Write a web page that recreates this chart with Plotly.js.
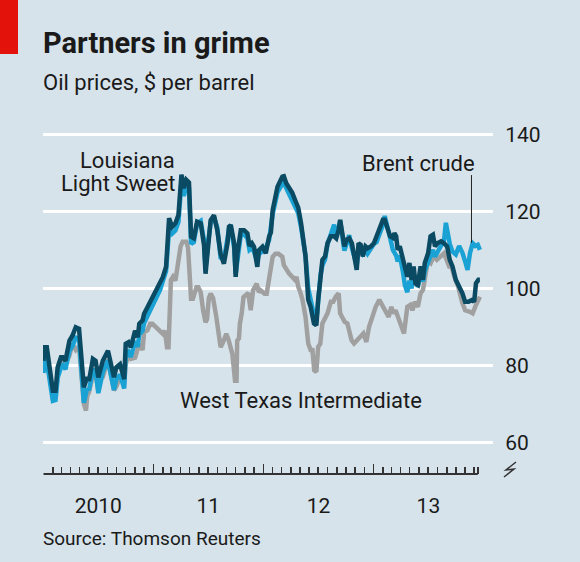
<!DOCTYPE html>
<html><head><meta charset="utf-8">
<script src="https://cdn.plot.ly/plotly-3.0.1.min.js"></script>
<style>html,body{margin:0;padding:0;background:#d7e3ea;} #chart{width:580px;height:562px;}</style>
</head><body><div id="chart"></div>
<script>
// ---- Louisiana Light Sweet ----
const llsDates = ['2010-01-01','2010-01-04','2010-01-12','2010-01-23','2010-02-01','2010-02-10','2010-02-17','2010-02-28','2010-03-06','2010-03-15','2010-03-28','2010-04-07','2010-04-18','2010-04-29','2010-05-06','2010-05-15','2010-05-26','2010-06-01','2010-06-14','2010-06-23','2010-07-02','2010-07-10','2010-07-17','2010-08-03','2010-08-12','2010-08-23','2010-08-31','2010-09-12','2010-09-26','2010-10-01','2010-10-10','2010-10-18','2010-11-01','2010-11-10','2010-11-15','2010-11-26','2010-12-01','2010-12-12','2010-12-19','2010-12-29','2011-01-09','2011-01-23','2011-02-01','2011-02-12','2011-02-22','2011-03-04','2011-03-15','2011-03-25','2011-04-04','2011-04-12','2011-04-20','2011-04-29','2011-05-06','2011-05-15','2011-05-26','2011-06-07','2011-06-18','2011-06-23','2011-07-01','2011-07-10','2011-07-21','2011-08-01','2011-08-12','2011-08-23','2011-09-04','2011-09-09','2011-09-15','2011-09-26','2011-10-01','2011-10-07','2011-10-18','2011-10-29','2011-11-09','2011-11-16','2011-11-24','2011-12-01','2011-12-12','2011-12-17','2011-12-29','2012-01-09','2012-01-20','2012-01-26','2012-02-01','2012-02-13','2012-02-17','2012-03-04','2012-03-09','2012-03-17','2012-03-26','2012-04-06','2012-04-17','2012-04-26','2012-05-05','2012-05-11','2012-05-20','2012-05-29','2012-06-06','2012-06-17','2012-06-25','2012-07-01','2012-07-09','2012-07-15','2012-07-24','2012-08-01','2012-08-12','2012-08-23','2012-08-30','2012-09-07','2012-09-12','2012-09-20','2012-09-26','2012-10-03','2012-10-12','2012-10-21','2012-10-29','2012-11-06','2012-11-12','2012-11-19','2012-11-26','2012-12-05','2012-12-12','2012-12-23','2013-01-02','2013-01-11','2013-01-20','2013-02-01','2013-02-07','2013-02-17','2013-02-25','2013-03-06','2013-03-11','2013-03-17','2013-03-22','2013-03-29','2013-04-08','2013-04-15','2013-04-23','2013-04-30','2013-05-07','2013-05-14','2013-05-20','2013-05-28','2013-06-06','2013-06-14','2013-06-20','2013-07-01','2013-07-09','2013-07-17','2013-07-24','2013-08-01','2013-08-13','2013-08-23','2013-09-02','2013-09-11','2013-09-20','2013-10-01','2013-10-12','2013-10-23','2013-11-01','2013-11-12','2013-11-24','2013-12-01','2013-12-07','2013-12-15','2013-12-20'];
const llsValues = [81.2,84.7,84.7,77.7,73.4,73.4,79.5,82.1,82.1,81.2,86.4,87.7,89.9,89.5,83.0,74.3,76.9,76.0,81.7,81.2,76.9,79.5,81.2,83.8,80.3,76.9,79.5,80.3,76.4,85.6,86.0,84.7,89.0,87.3,90.8,91.7,93.4,95.1,96.4,97.7,99.5,101.2,102.9,105.6,118.2,116.0,116.9,119.0,129.5,126.0,128.2,127.5,113.4,113.0,117.3,116.9,111.2,103.8,110.8,117.7,119.0,115.1,109.0,106.4,111.7,116.0,116.4,111.7,103.0,109.1,115.1,115.1,114.3,111.0,111.7,110.8,105.6,109.9,110.8,109.1,113.4,114.5,120.3,124.6,126.4,129.0,129.1,127.3,126.1,124.8,122.6,120.9,117.0,113.5,108.3,97.0,95.2,90.9,90.4,97.0,104.8,107.4,108.3,111.7,113.5,113.5,113.0,115.2,117.8,114.3,110.9,112.6,113.0,111.7,108.3,104.8,111.7,111.3,108.3,110.9,110.4,110.9,111.7,113.5,115.2,117.8,117.8,115.2,113.5,113.1,114.3,113.5,110.0,110.9,107.4,104.8,103.0,106.6,102.2,105.7,101.3,100.9,105.7,102.2,106.6,109.1,113.5,113.9,110.9,111.7,112.2,111.7,110.9,107.4,105.7,102.2,100.4,98.7,96.5,96.5,97.0,96.5,101.3,102.2,102.2];

// ---- Brent crude ----
const brentDates = ['2010-01-01','2010-01-04','2010-01-12','2010-01-23','2010-02-01','2010-02-10','2010-02-17','2010-02-28','2010-03-06','2010-03-15','2010-03-28','2010-04-07','2010-04-18','2010-04-29','2010-05-06','2010-05-15','2010-05-26','2010-06-01','2010-06-14','2010-06-23','2010-07-02','2010-07-10','2010-07-17','2010-08-03','2010-08-12','2010-08-23','2010-08-31','2010-09-12','2010-09-26','2010-10-01','2010-10-10','2010-10-18','2010-11-01','2010-11-10','2010-11-15','2010-11-26','2010-12-01','2010-12-12','2010-12-21','2010-12-29','2011-01-09','2011-01-23','2011-02-01','2011-02-12','2011-02-22','2011-03-04','2011-03-15','2011-03-25','2011-04-04','2011-04-12','2011-04-20','2011-04-29','2011-05-06','2011-05-15','2011-05-26','2011-06-07','2011-06-18','2011-06-23','2011-07-01','2011-07-10','2011-07-21','2011-08-01','2011-08-12','2011-08-23','2011-09-04','2011-09-09','2011-09-15','2011-09-26','2011-10-01','2011-10-07','2011-10-18','2011-10-29','2011-11-09','2011-11-16','2011-11-24','2011-12-01','2011-12-12','2011-12-17','2011-12-29','2012-01-09','2012-01-20','2012-02-01','2012-02-17','2012-03-04','2012-03-09','2012-03-17','2012-03-26','2012-04-06','2012-04-17','2012-04-26','2012-05-05','2012-05-11','2012-05-20','2012-05-29','2012-06-06','2012-06-17','2012-06-25','2012-07-01','2012-07-09','2012-07-15','2012-07-24','2012-08-01','2012-08-12','2012-08-23','2012-08-30','2012-09-07','2012-09-12','2012-09-20','2012-09-26','2012-10-03','2012-10-12','2012-10-21','2012-10-29','2012-11-06','2012-11-12','2012-11-19','2012-11-26','2012-12-05','2012-12-12','2012-12-23','2013-01-02','2013-01-11','2013-01-20','2013-02-01','2013-02-07','2013-02-17','2013-02-25','2013-03-06','2013-03-11','2013-03-17','2013-03-22','2013-03-29','2013-04-08','2013-04-15','2013-04-23','2013-04-30','2013-05-07','2013-05-14','2013-05-20','2013-05-28','2013-06-06','2013-06-14','2013-06-20','2013-07-01','2013-07-09','2013-07-17','2013-07-24','2013-08-01','2013-08-13','2013-08-23','2013-08-29','2013-09-04','2013-09-11','2013-09-20','2013-10-01','2013-10-12','2013-10-23','2013-11-03','2013-11-09','2013-11-17','2013-11-26','2013-12-05','2013-12-13','2013-12-20'];
const brentValues = [78.0,81.5,81.0,75.5,70.8,71.0,76.8,79.5,80.0,79.0,83.8,85.0,87.2,87.0,80.5,70.3,74.0,73.5,78.8,78.5,72.8,76.2,78.3,81.2,77.5,73.6,76.5,77.6,74.0,82.8,83.5,82.2,86.3,84.8,88.0,89.0,91.0,92.8,94.0,95.6,97.4,99.6,101.8,104.5,115.5,114.2,115.0,117.2,127.5,124.0,126.5,126.0,111.5,112.0,116.8,117.5,112.4,105.0,111.5,117.0,118.5,115.8,108.0,107.5,113.0,115.5,115.8,110.5,103.8,108.0,113.8,114.0,113.0,110.0,110.5,109.5,106.8,108.8,109.6,110.5,112.5,119.3,125.0,127.5,127.8,126.0,124.4,123.0,120.4,119.5,116.0,112.8,108.5,100.0,97.0,93.0,91.5,97.8,103.5,106.0,107.5,111.5,114.5,116.5,114.0,115.5,117.5,113.0,109.8,111.5,113.8,110.5,108.2,106.0,110.0,110.0,109.0,110.0,109.0,110.5,111.5,112.0,114.0,116.5,118.8,116.0,113.0,110.0,109.5,108.5,107.0,108.5,104.5,100.8,99.0,102.0,100.0,104.0,101.8,100.5,103.2,101.8,104.5,106.5,108.5,110.0,108.2,109.5,111.0,112.5,117.0,114.5,111.5,109.5,108.8,111.0,109.2,106.5,104.8,109.1,111.7,111.0,111.3,110.0];

// ---- West Texas Intermediate ----
const wtiDates = ['2010-01-01','2010-01-04','2010-01-12','2010-01-23','2010-02-01','2010-02-10','2010-02-17','2010-02-28','2010-03-06','2010-03-15','2010-03-28','2010-04-07','2010-04-18','2010-04-29','2010-05-06','2010-05-15','2010-05-22','2010-05-26','2010-06-01','2010-06-14','2010-06-23','2010-07-02','2010-07-10','2010-07-17','2010-08-03','2010-08-12','2010-08-23','2010-08-31','2010-09-12','2010-09-26','2010-10-01','2010-10-10','2010-10-18','2010-11-01','2010-11-10','2010-11-15','2010-11-26','2010-12-01','2010-12-12','2010-12-21','2010-12-29','2011-01-09','2011-01-20','2011-02-01','2011-02-08','2011-02-15','2011-02-20','2011-02-24','2011-02-28','2011-03-07','2011-03-15','2011-03-22','2011-04-01','2011-04-08','2011-04-20','2011-04-26','2011-05-06','2011-05-12','2011-05-24','2011-05-30','2011-06-07','2011-06-15','2011-06-23','2011-06-28','2011-07-04','2011-07-10','2011-07-18','2011-07-28','2011-08-05','2011-08-12','2011-08-20','2011-08-31','2011-09-08','2011-09-20','2011-09-29','2011-10-04','2011-10-06','2011-10-12','2011-10-15','2011-10-21','2011-10-27','2011-11-06','2011-11-12','2011-11-20','2011-11-28','2011-12-10','2011-12-17','2011-12-23','2012-01-05','2012-01-12','2012-01-20','2012-01-26','2012-02-01','2012-02-10','2012-02-20','2012-03-04','2012-03-09','2012-03-26','2012-04-06','2012-04-15','2012-04-20','2012-04-26','2012-05-04','2012-05-10','2012-05-20','2012-05-29','2012-06-06','2012-06-12','2012-06-18','2012-06-25','2012-07-01','2012-07-08','2012-07-15','2012-07-20','2012-08-01','2012-08-12','2012-08-20','2012-08-28','2012-09-07','2012-09-12','2012-09-20','2012-09-27','2012-10-06','2012-10-20','2012-10-28','2012-11-06','2012-11-15','2012-11-28','2012-12-08','2012-12-17','2012-12-28','2013-01-08','2013-01-20','2013-01-29','2013-02-10','2013-02-20','2013-03-01','2013-03-08','2013-03-15','2013-03-24','2013-04-12','2013-04-23','2013-05-03','2013-05-10','2013-05-18','2013-05-28','2013-06-06','2013-06-14','2013-06-23','2013-07-01','2013-07-10','2013-07-20','2013-07-30','2013-08-13','2013-08-23','2013-09-09','2013-09-17','2013-09-26','2013-10-09','2013-10-23','2013-11-01','2013-11-17','2013-11-26','2013-12-07','2013-12-15','2013-12-20'];
const wtiValues = [80.0,83.5,82.0,76.0,72.0,71.5,77.5,80.0,81.0,80.5,82.5,85.5,84.0,85.0,78.5,70.0,68.3,72.0,73.0,77.5,78.0,73.5,76.5,77.0,81.5,77.5,73.5,74.5,77.0,75.3,80.5,82.5,81.7,82.0,84.0,85.6,84.0,88.7,89.1,90.8,90.8,89.9,89.1,88.2,89.0,84.7,84.7,99.0,102.1,103.0,102.0,105.6,110.8,112.1,112.1,110.5,97.3,97.3,100.3,100.3,99.0,94.3,91.2,92.0,97.5,98.6,97.5,93.0,87.3,84.7,86.0,88.2,86.5,83.0,76.0,76.0,86.4,87.0,90.8,93.4,97.7,98.2,98.8,94.3,99.5,101.2,99.0,99.5,98.6,98.6,102.5,106.4,108.2,109.0,109.0,108.2,106.0,103.9,103.0,102.2,103.0,100.4,98.7,97.0,92.6,85.7,84.0,84.0,78.7,78.3,84.8,85.6,90.9,91.7,93.5,96.5,96.5,97.8,98.7,93.5,92.6,91.3,90.9,86.5,85.7,86.5,87.4,88.3,86.1,90.0,92.6,95.2,97.0,95.7,94.0,92.6,95.2,93.5,94.3,92.6,88.3,95.2,95.7,94.3,96.5,95.2,98.7,99.6,103.0,107.4,106.6,108.3,107.4,108.3,109.1,105.7,105.7,103.0,100.4,96.1,94.3,93.9,93.5,95.7,97.4,97.8];

// ---- axes / labels ----
const yTickValues = [60, 80, 100, 120, 140];
const yearTickDates = ['2010-01-01','2011-01-01','2012-01-01','2013-01-01'];
const yearLabelDates = ['2010-07-02','2011-07-02','2012-07-02','2013-07-02'];
const yearLabels = ['2010','11','12','13'];
const tickYears = [2010, 2011, 2012, 2013];
const axisEndDate = '2013-12-13';

const monthTicks = [];
tickYears.forEach(y => { for (let m = 2; m <= 12; m++) monthTicks.push(y + '-' + String(m).padStart(2,'0') + '-01'); });
monthTicks.push(axisEndDate);

const FONT = 'Roboto, "Open Sans", sans-serif';
const INK = '#1a1a1a';
const L = 43, T = 120, W = 450, H = 354;
const px = p => (p - L) / W;
const py = p => (T + H - p) / H;
const xRange = ['2009-12-30 08:00', '2014-02-01 12:00'];

const traces = [
  {x: wtiDates, y: wtiValues, type: 'scatter', mode: 'lines', line: {color: '#a0a0a0', width: 4.5}, hoverinfo: 'skip'},
  {x: brentDates, y: brentValues, type: 'scatter', mode: 'lines', line: {color: '#1aa2d4', width: 4.5}, hoverinfo: 'skip'},
  {x: llsDates, y: llsValues, type: 'scatter', mode: 'lines', line: {color: '#0b4a63', width: 4.5}, hoverinfo: 'skip'},
  {x: [yearLabelDates[0]], y: [null], xaxis: 'x2', yaxis: 'y', type: 'scatter', mode: 'lines', hoverinfo: 'skip'}
];

function ann(text, x, y, xanchor, size, bold) {
  return {text: bold ? '<b>' + text + '</b>' : text, xref: 'paper', yref: 'paper', x: x, y: y,
          xanchor: xanchor, yanchor: 'middle', showarrow: false,
          font: {family: FONT, size: size, color: INK}};
}

const layout = {
  width: 580, height: 562,
  paper_bgcolor: '#d7e3ea', plot_bgcolor: '#d7e3ea',
  margin: {l: L, r: 580 - L - W, t: T, b: 562 - T - H, pad: 0},
  showlegend: false,
  xaxis: {type: 'date', range: xRange, tickmode: 'array', tickvals: yearTickDates,
          ticks: 'inside', ticklen: 10, tickwidth: 1.5, tickcolor: '#333',
          showticklabels: false, showgrid: false, zeroline: false, showline: false, fixedrange: true,
          minor: {tickmode: 'array', tickvals: monthTicks, ticks: 'inside', ticklen: 7, tickwidth: 1.5, tickcolor: '#333', showgrid: false}},
  xaxis2: {type: 'date', range: xRange, overlaying: 'x', anchor: 'y', side: 'bottom',
           tickmode: 'array', tickvals: yearLabelDates, ticktext: yearLabels,
           ticks: 'outside', ticklen: 13, tickcolor: 'rgba(0,0,0,0)',
           tickfont: {family: FONT, size: 21, color: INK},
           showgrid: false, zeroline: false, showline: false, fixedrange: true},
  yaxis: {range: [51.8, 143.7], side: 'right', tickmode: 'array', tickvals: yTickValues,
          showgrid: true, gridcolor: '#ffffff', gridwidth: 2.5, zeroline: false, showline: false,
          ticks: 'outside', ticklen: 7, tickcolor: 'rgba(0,0,0,0)',
          tickfont: {family: FONT, size: 21, color: INK}, fixedrange: true},
  shapes: [
    {type: 'rect', xref: 'paper', yref: 'paper', x0: px(0), x1: px(18), y0: py(54), y1: py(-2),
     fillcolor: '#e3120b', line: {width: 0}},
    {type: 'line', xref: 'x', yref: 'paper', x0: '2010-01-01', x1: axisEndDate, y0: 0, y1: 0,
     line: {color: '#333', width: 2}},
    {type: 'line', xref: 'x', yref: 'y', x0: '2013-11-22', x1: '2013-11-22', y0: 129.4, y1: 111.8,
     line: {color: '#222', width: 1}},
    {type: 'path', xref: 'paper', yref: 'paper',
     path: 'M ' + px(516) + ',' + py(462) + ' L ' + px(506) + ',' + py(470) + ' L ' + px(514) + ',' + py(469) + ' L ' + px(504) + ',' + py(477),
     line: {color: '#333', width: 1.5}}
  ],
  annotations: [
    ann('Partners in grime', px(41), py(43), 'left', 29, true),
    ann('Oil prices, $ per barrel', px(41), py(82.5), 'left', 22, false),
    ann('Louisiana', px(177), py(160), 'right', 22, false),
    ann('Light Sweet', px(177), py(183), 'right', 22, false),
    ann('Brent crude', px(477), py(163), 'right', 22, false),
    ann('West Texas Intermediate', px(178), py(400), 'left', 22, false),
    ann('Source: Thomson Reuters', px(41), py(538), 'left', 19, false)
  ]
};

Plotly.newPlot('chart', traces, layout, {staticPlot: true, displayModeBar: false});
</script>
</body></html>
